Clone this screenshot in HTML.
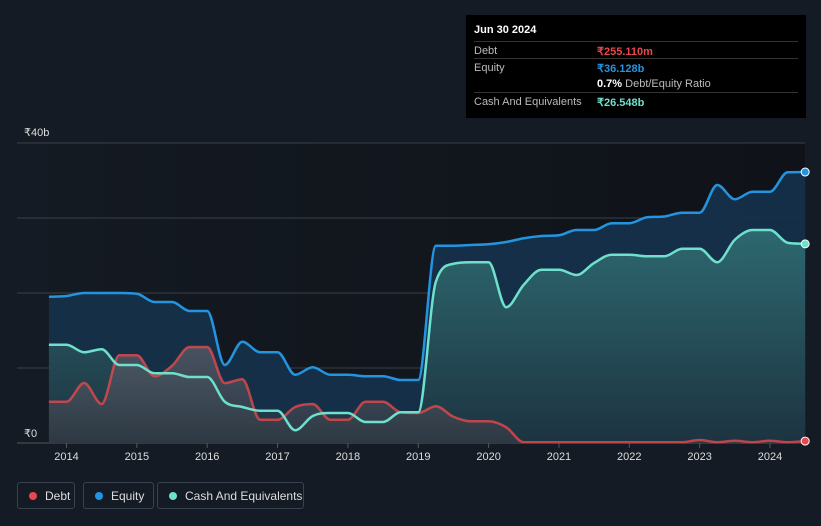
<!DOCTYPE html>
<html><head><meta charset="utf-8">
<style>
body{margin:0;background:#151b24;font-family:"Liberation Sans",sans-serif;}
#wrap{position:relative;width:821px;height:526px;overflow:hidden;background:#151b24;}
svg{position:absolute;left:0;top:0;}
#tip{position:absolute;left:466px;top:15px;width:340px;height:103px;background:#000;color:#fff;font-size:11px;}
.row{position:absolute;left:8px;width:324px;border-top:1px solid #333;height:17px;}
.row span{position:absolute;top:3px;}
.lg{position:absolute;top:482px;height:27px;border:1px solid #3a4250;border-radius:3px;color:#ddd;font-size:12px;line-height:27px;box-sizing:border-box;}
.dot{display:inline-block;width:8px;height:8px;border-radius:50%;margin:0 8px 0 11px;vertical-align:-0px;}
</style></head><body>
<div id="wrap">
<svg id="chart" width="821" height="526"></svg>
<div id="tip">
 <div style="position:absolute;left:8px;top:9px;font-weight:bold;font-size:11px">Jun 30 2024</div>
 <div class="row" style="top:26px"><span style="color:#bbb">Debt</span><span style="left:123px;color:#e5484d;font-weight:bold">₹255.110m</span></div>
 <div class="row" style="top:43px"><span style="color:#bbb">Equity</span><span style="left:123px;color:#2394df;font-weight:bold">₹36.128b</span></div>
 <div class="row" style="top:60px;border-top:none"><span style="left:123px;color:#fff"><b>0.7%</b> <span style="position:static;color:#bbb">Debt/Equity Ratio</span></span></div>
 <div class="row" style="top:77px"><span style="color:#bbb">Cash And Equivalents</span><span style="left:123px;color:#6ee0cc;font-weight:bold">₹26.548b</span></div>
</div>
<div class="lg" style="left:17px;width:58px"><span class="dot" style="background:#e5484d"></span>Debt</div>
<div class="lg" style="left:83px;width:71px"><span class="dot" style="background:#2394df"></span>Equity</div>
<div class="lg" style="left:157px;width:147px"><span class="dot" style="background:#6ee0cc"></span>Cash And Equivalents</div>
</div>
<script>
const startYear = 2013.75;
const equity = [19.5,19.6,20,20,20,19.9,18.8,18.8,17.6,17.6,10.4,13.5,12.1,12.1,9.1,10.1,9.1,9.1,8.9,8.9,8.4,8.4,26.3,26.3,26.4,26.5,26.8,27.3,27.6,27.7,28.4,28.4,29.3,29.3,30.1,30.2,30.7,30.7,34.4,32.5,33.5,33.5,36.1,36.13];
const cash = [13.1,13.1,12.1,12.5,10.4,10.4,9.3,9.3,8.8,8.8,5.5,4.8,4.3,4.3,1.7,3.6,4.0,4.0,2.8,2.8,4.1,4.1,21.5,23.9,24.1,24.1,18.1,21.1,23.1,23.1,22.4,24.0,25.1,25.1,24.9,24.9,25.9,25.9,24.1,27.1,28.4,28.4,26.7,26.55];
const debt = [5.5,5.5,8,5.2,11.7,11.7,8.9,10.3,12.8,12.8,8,8.5,3.1,3.1,4.8,5.2,3.1,3.1,5.5,5.5,4.1,4.0,4.9,3.5,2.9,2.9,2.1,0.1,0.1,0.1,0.1,0.1,0.1,0.1,0.1,0.1,0.1,0.4,0.1,0.3,0.1,0.3,0.1,0.255];
const yTicks = [0,10,20,30,40];
const yLabels = ["₹0","","","","₹40b"];
const xYears = [2014,2015,2016,2017,2018,2019,2020,2021,2022,2023,2024];

const X = t => 66.5 + (t-2014)*70.35;
const Y = v => 443 - v*7.5;
const svg = document.getElementById('chart');
const NS='http://www.w3.org/2000/svg';
function mk(tag,attrs,parent){const e=document.createElementNS(NS,tag);for(const k in attrs)e.setAttribute(k,attrs[k]);(parent||svg).appendChild(e);return e;}
function monotone(pts){
 const n=pts.length;if(n<2)return '';
 const dx=[],s=[],m=[];
 for(let i=0;i<n-1;i++){dx[i]=pts[i+1][0]-pts[i][0];s[i]=(pts[i+1][1]-pts[i][1])/dx[i];}
 m[0]=s[0];m[n-1]=s[n-2];
 for(let i=1;i<n-1;i++){if(s[i-1]*s[i]<=0)m[i]=0;else{m[i]=(s[i-1]+s[i])/2;const a=m[i]/s[i-1],b=m[i]/s[i];const h=a*a+b*b;if(h>9){const t=3/Math.sqrt(h);m[i]=t*(a)*s[i-1];}}}
 for(let i=0;i<n-1;i++){if(s[i]===0){m[i]=0;m[i+1]=0;}}
 let d='M'+pts[0][0]+','+pts[0][1];
 for(let i=0;i<n-1;i++){const h=dx[i]/3;d+=' C'+(pts[i][0]+h)+','+(pts[i][1]+m[i]*h)+' '+(pts[i+1][0]-h)+','+(pts[i+1][1]-m[i+1]*h)+' '+pts[i+1][0]+','+pts[i+1][1];}
 return d;
}
const defs=mk('defs',{});
defs.innerHTML='<linearGradient id="gc" x1="0" y1="0" x2="0" y2="1"><stop offset="0" stop-color="#2f6b72"/><stop offset="1" stop-color="#1d3440"/></linearGradient><linearGradient id="gd" x1="0" y1="0" x2="0" y2="1"><stop offset="0" stop-color="#5a5e68"/><stop offset="1" stop-color="#333a45"/></linearGradient><linearGradient id="gb" x1="0" y1="0" x2="1" y2="0"><stop offset="0" stop-color="#141a22"/><stop offset="1" stop-color="#0f1218"/></linearGradient>';
mk('rect',{x:48,y:143,width:757,height:300,fill:'url(#gb)',});
yTicks.forEach((v,i)=>{
 const g=mk('line',{x1:17,x2:805,y1:Y(v),y2:Y(v),stroke:i===0?'#555':'#3a3f48','stroke-width':1});
 
 
 if(yLabels[i]){const t=mk('text',{x:24,y:Y(v)-(i===0?6:7),fill:'#ddd','font-size':11});t.textContent=yLabels[i];
 
 }
});
xYears.forEach(yr=>{
 const l=mk('line',{x1:X(yr),x2:X(yr),y1:443,y2:448,stroke:'#555'});
 
 
 const t=mk('text',{x:X(yr),y:460,fill:'#ddd','font-size':11,'text-anchor':'middle'});t.textContent=yr;
 
 
});
function series(vals,color,fill,name,op){
 const pts=vals.map((v,i)=>[X(startYear+i*0.25),Y(v)]);
 const d=monotone(pts);
 const a=mk('path',{d:d+' L'+pts[pts.length-1][0]+','+Y(0)+' L'+pts[0][0]+','+Y(0)+' Z',fill:fill,'fill-opacity':op});
 
 
 return {pts,d,color,name};
}
const se=series(equity,'#2394df','#15304a','equity',0.95);
const sc=series(cash,'#6ee0cc','url(#gc)','cash',0.95);
const sd=series(debt,'#e5484d','url(#gd)','debt',0.75);
[sd,sc,se].forEach(s=>{
 const p=mk('path',{d:s.d,fill:'none',stroke:s.color,'stroke-width':2.5,'stroke-linejoin':'round',opacity:s.name==='debt'?0.8:1});
 
 
 const last=s.pts[s.pts.length-1];
 const c=mk('circle',{cx:last[0],cy:last[1],r:4,fill:s.color,stroke:'#fff','stroke-width':1});
 
 
});
</script>
</body></html>
